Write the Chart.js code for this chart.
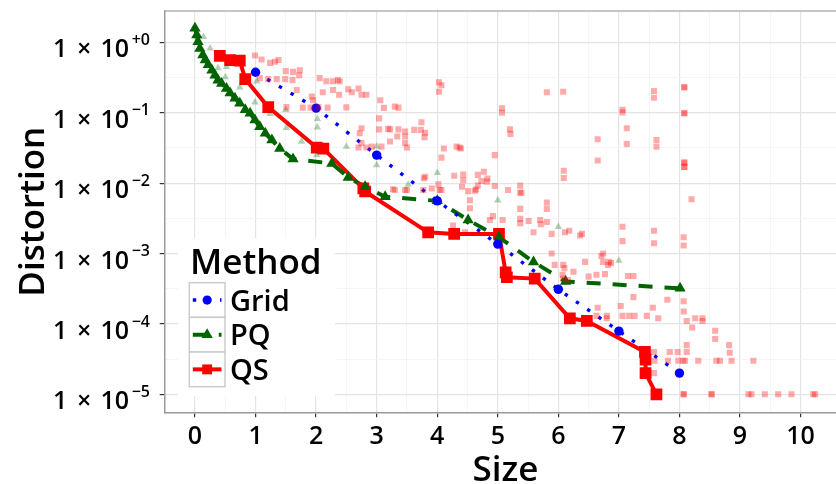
<!DOCTYPE html>
<html>
<head>
<meta charset="utf-8">
<script src="https://cdn.jsdelivr.net/npm/chart.js@4.4.1/dist/chart.umd.min.js"></script>
<style>
  html, body { margin: 0; padding: 0; background: #fff; overflow: hidden; }
  #wrap { position: relative; width: 850px; height: 484px; }
</style>
</head>
<body>
<div id="wrap"><canvas id="c" width="850" height="484"></canvas></div>
<script>
// ---- tick labels -------------------------------------------------------
const xMajor = [0, 1, 2, 3, 4, 5, 6, 7, 8, 9, 10];
const yMajor = [1e0, 1e-1, 1e-2, 1e-3, 1e-4, 1e-5];
const yExponents = ['+0', '\u22121', '\u22122', '\u22123', '\u22124', '\u22125'];
const methods = ['Grid', 'PQ', 'QS'];

// ---- best configuration per size (one curve per method) ----------------
const gridX = [1, 2, 3, 4, 5, 6, 7, 8];
const gridY = [0.375, 0.116, 0.025, 0.0056, 0.00136, 0.00031, 0.000079, 0.00002];

const pqX = [0.00, 0.03, 0.05, 0.08, 0.13, 0.17, 0.22, 0.28, 0.33, 0.38, 0.44, 0.52, 0.58,
             0.66, 0.74, 0.83, 0.91, 0.99, 1.07, 1.16, 1.27, 1.40, 1.62, 2.26, 2.53, 2.81,
             3.14, 4.00, 4.51, 5.02, 5.59, 6.12, 8.01];
const pqY = [1.58, 1.27, 1.02, 0.82, 0.66, 0.56, 0.48, 0.40, 0.34, 0.29, 0.26, 0.22, 0.19,
             0.16, 0.136, 0.11, 0.098, 0.079, 0.063, 0.051, 0.041, 0.031, 0.022, 0.019, 0.012, 0.0089,
             0.0064, 0.0056, 0.0030, 0.0017, 0.00076, 0.00040, 0.00032];

const qsX = [0.41, 0.58, 0.74, 0.83, 1.21, 2.01, 2.12, 2.78, 2.81, 3.85, 4.28, 5.02, 5.13,
             5.15, 5.61, 6.19, 6.47, 7.43, 7.44, 7.44, 7.62];
const qsY = [0.64, 0.56, 0.55, 0.30, 0.12, 0.032, 0.031, 0.0084, 0.0076, 0.0020, 0.0019, 0.0019, 0.00054,
             0.00046, 0.00044, 0.00012, 0.00011, 0.000040, 0.000031, 0.000020, 0.00001];

// ---- every tried configuration (faint background marks) ----------------
const pqAllX = [0.14, 0.25, 0.38, 0.52, 0.50, 0.74, 1.02, 0.99, 1.24, 1.50, 1.51, 1.76, 2.02,
                2.02, 2.01, 2.50, 3.00, 3.00, 3.52, 4.00, 5.00, 6.00, 7.00];
const pqAllY = [1.20, 0.82, 0.43, 0.45, 0.32, 0.23, 0.28, 0.14, 0.096, 0.11, 0.061, 0.039, 0.082,
                0.062, 0.025, 0.033, 0.033, 0.018, 0.0095, 0.014, 0.0057, 0.0024, 0.00079];

const qsAllX = [
  0.99, 1.10, 1.24, 1.32, 1.38, 1.50, 1.62, 1.73, 1.72, 1.07, 1.21, 1.35, 1.49, 1.61,
  2.06, 2.17, 2.28, 2.36, 2.39, 2.11, 2.28, 2.38, 2.53, 2.59, 2.70, 2.75, 2.83, 1.93,
  1.95, 1.68, 1.51, 1.78, 1.91, 2.04, 2.19, 2.50, 3.06, 3.12, 3.30, 3.36, 3.04, 3.19,
  3.04, 2.75, 2.72, 3.22, 2.75, 2.70, 2.83, 2.92, 3.08, 3.22, 3.36, 3.47, 3.47, 3.62,
  3.73, 3.80, 3.79, 3.34, 3.74, 3.47, 3.50, 4.03, 4.07, 4.03, 5.81, 6.08, 7.58, 7.58,
  8.08, 8.08, 5.07, 5.07, 7.06, 7.06, 8.08, 8.08, 5.20, 5.21, 7.13, 6.65, 7.62, 7.62,
  7.13, 4.11, 4.32, 4.37, 4.39, 4.07, 4.95, 6.65, 8.08, 8.08, 8.08, 8.08, 6.09, 6.09,
  3.80, 3.78, 4.28, 4.43, 4.43, 4.41, 4.67, 4.77, 4.83, 4.82, 4.73, 4.67, 4.64, 4.62,
  4.02, 4.04, 4.07, 3.91, 3.77, 3.27, 3.30, 3.47, 3.50, 4.95, 5.17, 5.37, 5.37, 5.39,
  4.51, 8.20, 5.81, 5.81, 4.54, 4.54, 5.37, 5.08, 4.92, 4.87, 5.37, 5.37, 5.51, 5.59,
  5.70, 5.71, 5.81, 7.06, 7.58, 8.07, 8.07, 5.89, 6.11, 6.18, 6.36, 6.39, 7.06, 7.58,
  4.26, 4.46, 6.74, 6.71, 5.89, 6.44, 6.74, 6.84, 6.87, 6.82, 5.94, 6.08, 6.10, 6.25,
  6.50, 6.63, 6.77, 6.07, 6.08, 6.16, 7.15, 7.24, 7.24, 7.56, 7.80, 8.07, 8.07, 6.65,
  6.63, 6.80, 6.80, 7.03, 7.06, 7.17, 7.26, 7.46, 7.65, 8.12, 8.26, 8.38, 8.38, 8.21,
  8.59, 8.59, 8.82, 8.83, 8.12, 7.84, 7.97, 8.12, 7.58, 7.59, 7.81, 7.98, 8.06, 8.09,
  8.31, 8.61, 8.67, 8.86, 9.22, 7.58, 8.07, 8.07, 8.53, 8.53, 9.14, 9.19, 9.41, 9.63,
  9.85, 10.21, 10.24
];
const qsAllY = [
  0.65, 0.57, 0.51, 0.53, 0.56, 0.39, 0.38, 0.40, 0.34, 0.31, 0.30, 0.30, 0.30, 0.29,
  0.31, 0.28, 0.28, 0.29, 0.28, 0.195, 0.21, 0.18, 0.215, 0.195, 0.22, 0.18, 0.18, 0.17,
  0.15, 0.21, 0.12, 0.118, 0.118, 0.119, 0.118, 0.119, 0.15, 0.117, 0.122, 0.118, 0.083, 0.059,
  0.058, 0.060, 0.051, 0.039, 0.037, 0.032, 0.032, 0.033, 0.033, 0.058, 0.058, 0.054, 0.046, 0.057,
  0.057, 0.052, 0.045, 0.046, 0.073, 0.037, 0.032, 0.27, 0.246, 0.198, 0.195, 0.198, 0.203, 0.163,
  0.23, 0.23, 0.116, 0.10, 0.11, 0.101, 0.098, 0.098, 0.058, 0.050, 0.060, 0.042, 0.041, 0.033,
  0.036, 0.031, 0.033, 0.032, 0.031, 0.023, 0.025, 0.021, 0.0196, 0.0196, 0.017, 0.017, 0.015, 0.0118,
  0.0123, 0.0117, 0.0127, 0.0132, 0.011, 0.0089, 0.0131, 0.0145, 0.0116, 0.0105, 0.0107, 0.0092, 0.0081, 0.0078,
  0.0096, 0.0080, 0.0080, 0.0084, 0.0080, 0.0082, 0.0080, 0.0080, 0.0080, 0.0091, 0.0080, 0.0092, 0.0073, 0.0073,
  0.0077, 0.0059, 0.0053, 0.0043, 0.0057, 0.0044, 0.0043, 0.0030, 0.0034, 0.0030, 0.0031, 0.0027, 0.0029, 0.0020,
  0.0030, 0.0026, 0.0028, 0.0024, 0.0021, 0.0017, 0.0013, 0.0019, 0.0020, 0.0021, 0.0018, 0.0019, 0.0015, 0.0014,
  0.0025, 0.0020, 0.0010, 0.00092, 0.0010, 0.00076, 0.00076, 0.00076, 0.00073, 0.00069, 0.00069, 0.00069, 0.00062, 0.00055,
  0.00047, 0.00050, 0.00051, 0.00050, 0.00044, 0.00042, 0.00048, 0.00048, 0.00024, 0.00017, 0.00022, 0.00021, 0.00015, 0.00017,
  0.00013, 0.00013, 0.00012, 0.00018, 0.00013, 0.00013, 0.00013, 0.00013, 0.00012, 0.00011, 0.00012, 0.00012, 0.00011, 0.000089,
  0.000080, 0.000061, 0.000050, 0.000039, 0.000050, 0.000040, 0.000040, 0.000040, 0.000040, 0.000030, 0.000030, 0.000030, 0.000030, 0.000030,
  0.000030, 0.000030, 0.000030, 0.000030, 0.000030, 0.000020, 0.00001, 0.00001, 0.00001, 0.00001, 0.00001, 0.00001, 0.00001, 0.00001,
  0.00001, 0.00001, 0.00001
];

// ---- helpers -----------------------------------------------------------
const FONT = '"Open Sans", "Noto Sans", "DejaVu Sans", sans-serif';
const WEIGHT = '600';
const BLUE = '#0000ff', GREEN = '#006400', RED = '#ff0000';
const GRID_MAJOR = '#e4e4e4', GRID_MINOR = '#f2f2f2';

const pts = (xs, ys) => xs.map((x, i) => ({ x: x, y: ys[i] }));
const isMajorX = v => xMajor.includes(v);
const isMajorY = v => yMajor.some(m => Math.abs(m - v) / m < 1e-6);

const styles = {
  Grid: { color: BLUE,  dash: [3.4, 10.2], width: 3.4, marker: 'circle',   r: 4.7 },
  PQ:   { color: GREEN, dash: [14, 12],    width: 4,   marker: 'triangle', r: 6.5 },
  QS:   { color: RED,   dash: [],          width: 4,   marker: 'rect',     r: 8.3 }
};

function lineSet(name, xs, ys, order) {
  const s = styles[name];
  return {
    label: name, data: pts(xs, ys), showLine: true, order: order,
    borderColor: s.color, borderWidth: s.width, borderDash: s.dash,
    borderCapStyle: 'butt', borderJoinStyle: 'miter', tension: 0, fill: false,
    pointRadius: 0, pointHoverRadius: 0
  };
}
function pointSet(name, xs, ys, order) {
  const s = styles[name];
  return {
    label: name, data: pts(xs, ys), showLine: false, order: order,
    pointStyle: s.marker, pointRadius: s.r, pointHoverRadius: s.r,
    pointBackgroundColor: s.color, pointBorderColor: s.color, pointBorderWidth: 0
  };
}

// marker shapes for the legend keys (same geometry as Chart.js point styles)
function drawMarker(ctx, style, x, y, r, color) {
  ctx.fillStyle = color;
  ctx.beginPath();
  if (style === 'circle') {
    ctx.arc(x, y, r, 0, Math.PI * 2);
  } else if (style === 'triangle') {
    ctx.moveTo(x, y - r);
    ctx.lineTo(x + r * Math.sin(2 * Math.PI / 3), y - r * Math.cos(2 * Math.PI / 3));
    ctx.lineTo(x + r * Math.sin(4 * Math.PI / 3), y - r * Math.cos(4 * Math.PI / 3));
    ctx.closePath();
  } else {
    const h = r * Math.SQRT1_2;
    ctx.rect(x - h, y - h, 2 * h, 2 * h);
  }
  ctx.fill();
}

const font = size => WEIGHT + ' ' + size + 'px ' + FONT;

// superscript tick labels, top panel edge and the "Method" legend
const decorations = {
  id: 'decorations',
  afterDraw(chart) {
    const ctx = chart.ctx, a = chart.chartArea, yScale = chart.scales.y;
    ctx.save();

    ctx.strokeStyle = '#b3b3b3';
    ctx.lineWidth = 1.6;
    ctx.beginPath();
    ctx.moveTo(a.left, a.top);
    ctx.lineTo(a.right, a.top);
    ctx.stroke();

    // "1 × 10^k" labels, laid out like a math expression
    ctx.fillStyle = '#000';
    ctx.textBaseline = 'alphabetic';
    const supLeft = a.left - 33;
    yMajor.forEach((v, i) => {
      const py = yScale.getPixelForValue(v);
      ctx.font = font(16);
      ctx.textAlign = 'left';
      ctx.fillText(yExponents[i], supLeft, py + 2.7);
      ctx.font = font(25);
      ctx.textAlign = 'right';
      ctx.fillText('10', supLeft - 2.6, py + 15);
      ctx.textAlign = 'center';
      ctx.fillText('\u00d7', supLeft - 47.5, py + 15);
      ctx.fillText('1', supLeft - 71.5, py + 15);
    });

    // legend
    const lx = 189.3, ly = 282.7, kw = 35.7, kh = 34.67;
    ctx.fillStyle = '#fff';
    ctx.fillRect(178, 238, 157, 158);
    ctx.fillStyle = '#000';
    ctx.textAlign = 'left';
    ctx.font = font(35);
    ctx.fillText('Method', 190, 274.3);
    methods.forEach((name, i) => {
      const s = styles[name];
      const top = ly + i * kh, cy = top + kh / 2;
      ctx.fillStyle = '#fff';
      ctx.fillRect(lx, top, kw, kh);
      ctx.strokeStyle = '#cccccc';
      ctx.lineWidth = 1.5;
      ctx.setLineDash([]);
      ctx.strokeRect(lx, top, kw, kh);
      ctx.strokeStyle = s.color;
      ctx.lineWidth = s.width;
      ctx.lineCap = 'butt';
      ctx.setLineDash(s.dash);
      ctx.beginPath();
      ctx.moveTo(lx + 3.5, cy);
      ctx.lineTo(lx + kw - 3.5, cy);
      ctx.stroke();
      ctx.setLineDash([]);
      const mr = name === 'QS' ? 7 : (name === 'PQ' ? 6.5 : 4.6);
      drawMarker(ctx, s.marker, lx + kw / 2, cy, mr, s.color);
      ctx.fillStyle = '#000';
      ctx.font = font(29);
      ctx.fillText(name, 230, cy + 10.5);
    });
    ctx.restore();
  }
};

const gridStyle = isMajor => ({
  color: c => isMajor(c.tick.value) ? GRID_MAJOR : GRID_MINOR,
  lineWidth: c => isMajor(c.tick.value) ? 1.2 : 0.8,
  tickColor: c => isMajor(c.tick.value) ? '#333' : 'rgba(0,0,0,0)',
  tickWidth: 1.2,
  tickLength: 5,
  drawTicks: true
});

new Chart(document.getElementById('c'), {
  type: 'scatter',
  data: {
    datasets: [
      { label: 'QS (all)', data: pts(qsAllX, qsAllY), order: 0, pointStyle: 'rect',
        pointRadius: 4.3, pointHoverRadius: 4.3, pointBackgroundColor: 'rgba(255,0,0,0.33)', pointBorderWidth: 0 },
      { label: 'PQ (all)', data: pts(pqAllX, pqAllY), order: 1, pointStyle: 'triangle',
        pointRadius: 4.3, pointHoverRadius: 4.3, pointBackgroundColor: 'rgba(0,100,0,0.3)', pointBorderWidth: 0 },
      pointSet('Grid', gridX, gridY, 2),
      pointSet('PQ', pqX, pqY, 3),
      pointSet('QS', qsX, qsY, 4),
      lineSet('Grid', gridX, gridY, 5),
      lineSet('PQ', pqX, pqY, 6),
      lineSet('QS', qsX, qsY, 7)
    ]
  },
  options: {
    responsive: false,
    devicePixelRatio: 1,
    animation: false,
    events: [],
    layout: { autoPadding: false, padding: { left: 0, top: 11, right: 4, bottom: 0 } },
    plugins: { legend: { display: false }, tooltip: { enabled: false } },
    scales: {
      x: {
        type: 'linear', min: -0.5, max: 10.75,
        afterBuildTicks: s => {
          const t = [{ value: -0.5 }];
          xMajor.forEach(v => { t.push({ value: v }); if (v < 10) t.push({ value: v + 0.5 }); });
          s.ticks = t;
        },
        afterFit: s => { s.height = 71.7; },
        grid: gridStyle(isMajorX),
        border: { display: true, color: '#9a9a9a', width: 1.5 },
        ticks: { autoSkip: false, maxRotation: 0, padding: 5, color: '#000',
                 font: { family: FONT, size: 25, weight: WEIGHT },
                 callback: v => isMajorX(v) ? String(v) : '' },
        title: { display: true, text: 'Size', color: '#000',
                 font: { family: FONT, size: 35, weight: WEIGHT, lineHeight: 0.75 }, padding: { top: 0, bottom: 0 } }
      },
      y: {
        type: 'logarithmic', min: 5.55e-6, max: 2.785,
        afterBuildTicks: s => {
          const t = [];
          yMajor.slice().reverse().forEach(v => {
            t.push({ value: v });
            const mid = v * Math.sqrt(10);
            if (mid < s.max) t.push({ value: mid });
          });
          s.ticks = t;
        },
        afterFit: s => { s.width = 164.7; },
        grid: gridStyle(isMajorY),
        border: { display: true, color: '#9a9a9a', width: 1.5 },
        ticks: { autoSkip: false, callback: () => '' },
        title: { display: true, text: 'Distortion', color: '#000',
                 font: { family: FONT, size: 35, weight: WEIGHT, lineHeight: 0.75 }, padding: { top: 20.8, bottom: 0 } }
      }
    }
  },
  plugins: [decorations]
});
</script>
</body>
</html>
